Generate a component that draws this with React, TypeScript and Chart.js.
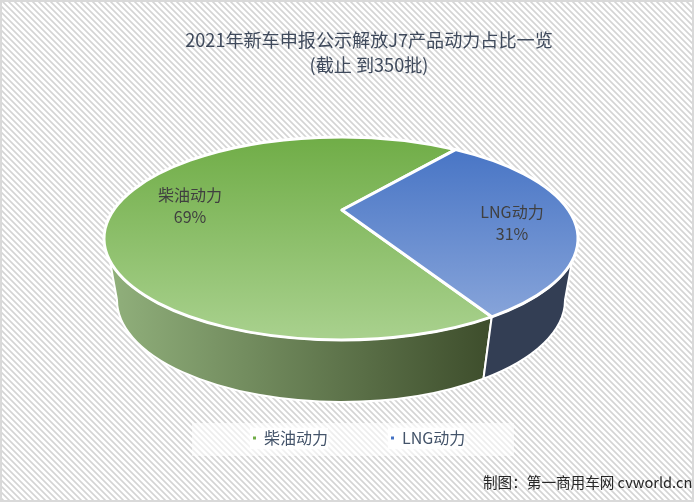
import { useEffect, useRef } from 'react';
import { Chart, registerables } from 'chart.js';

Chart.register(...registerables);

const titleLines = ['2021年新车申报公示解放J7产品动力占比一览', '(截止 到350批)'];
const categories = ['柴油动力', 'LNG动力'];
const shares = [69, 31];
const credit = '制图：第一商用车网 cvworld.cn';

const FONT = '"Noto Sans CJK SC", "Noto Sans", sans-serif';
const WIDTH = 694;
const HEIGHT = 502;

// top face of the pie, and the smaller ellipse the wall ends on (perspective)
const top = { x: 341, y: 238.5, rx: 237, ry: 101.5 };
const base = { x: 341, y: 300, rx: 224, ry: 102 };
const apex = { x: 342, y: 210 };

// slice fills: face runs top to bottom, wall runs left to right
const faceColors = [['#70ad47', '#a9d18e'], ['#4472c4', '#8faadc']];
const wallColors = [['#8fae7a', '#3f4f2d'], ['#3a4760', '#333e54']];
const legendColors = ['#70ad47', '#4472c4'];
const labelSpots = [{ x: 190, y: 195 }, { x: 512, y: 212 }];

const rad = (d: number) => (d * Math.PI) / 180;

const hatch = (ctx: CanvasRenderingContext2D) => {
  const tile = document.createElement('canvas');
  tile.width = 6;
  tile.height = 6;
  const t = tile.getContext('2d')!;
  t.fillStyle = '#ffffff';
  t.fillRect(0, 0, 6, 6);
  for (let y = 0; y < 6; y++) {
    for (let x = 0; x < 6; x++) {
      const d = (x - y + 12) % 6;
      if (d < 3) {
        t.fillStyle = d === 1 ? '#d4d4d4' : '#e2e2e2';
        t.fillRect(x, y, 1, 1);
      }
    }
  }
  return ctx.createPattern(tile, 'repeat')!;
};

const backdrop = {
  id: 'backdrop',
  beforeDraw(chart: any) {
    const { ctx } = chart;
    ctx.save();
    ctx.fillStyle = hatch(ctx);
    ctx.fillRect(0, 0, WIDTH, HEIGHT);
    ctx.strokeStyle = '#d9d9d9';
    ctx.lineWidth = 2;
    ctx.strokeRect(1, 1, WIDTH - 2, HEIGHT - 2);
    // legend panel
    ctx.fillStyle = 'rgba(255,255,255,0.58)';
    ctx.fillRect(192, 423, 322, 33);
    ctx.fillStyle = 'rgba(255,255,255,0.9)';
    ctx.shadowColor = '#ffffff';
    ctx.shadowBlur = 6;
    ctx.fillRect(250, 428, 78, 21);
    ctx.fillRect(388, 428, 76, 21);
    ctx.restore();
  },
};

const placeBoxes = {
  id: 'placeBoxes',
  afterLayout(chart: any) {
    const title = chart.titleBlock;
    title.left = 2;
    title.right = 736;
    title.top = 28;
    const legend = chart.legend;
    legend.left = 190;
    legend.right = 570;
    legend.top = 367;
  },
};

const pie3d = {
  id: 'pie3d',
  // the library's flat arcs give the angles, this draws them as the tilted pie
  beforeDatasetsDraw(chart: any) {
    const { ctx } = chart;
    const arcs = chart.getDatasetMeta(0).data;
    const wallTop = [rad(13), rad(167)];
    const wallBase = [0, Math.PI];
    const turn = 2 * Math.PI;

    ctx.save();
    ctx.lineJoin = 'round';
    arcs.forEach((arc: any, i: number) => {
      const start = ((arc.startAngle % turn) + turn) % turn;
      const end = start + arc.endAngle - arc.startAngle;
      // front part of the slice, the only part with a visible wall
      const a0 = end > turn ? 0 : start;
      const a1 = end > turn ? end - turn : Math.min(end, Math.PI);
      ctx.beginPath();
      ctx.ellipse(top.x, top.y, top.rx, top.ry, 0, Math.max(a0, wallTop[0]), Math.min(a1, wallTop[1]));
      ctx.ellipse(base.x, base.y, base.rx, base.ry, 0, Math.min(a1, wallBase[1]), Math.max(a0, wallBase[0]), true);
      ctx.closePath();
      const wall = ctx.createLinearGradient(base.x - base.rx, 0, base.x + base.rx, 0);
      wall.addColorStop(0, wallColors[i][0]);
      wall.addColorStop(0.82, wallColors[i][1]);
      wall.addColorStop(1, wallColors[i][1]);
      ctx.fillStyle = wall;
      ctx.fill();
      ctx.strokeStyle = '#ffffff';
      ctx.lineWidth = 2;
      ctx.stroke();
    });
    arcs.forEach((arc: any, i: number) => {
      ctx.beginPath();
      ctx.moveTo(apex.x, apex.y);
      ctx.ellipse(top.x, top.y, top.rx, top.ry, 0, arc.startAngle, arc.endAngle);
      ctx.closePath();
      const face = ctx.createLinearGradient(0, top.y - top.ry, 0, top.y + top.ry);
      face.addColorStop(0, faceColors[i][0]);
      face.addColorStop(1, faceColors[i][1]);
      ctx.fillStyle = face;
      ctx.fill();
      ctx.strokeStyle = '#ffffff';
      ctx.lineWidth = 3;
      ctx.stroke();
    });

    ctx.font = `16px ${FONT}`;
    ctx.fillStyle = '#404040';
    ctx.textAlign = 'center';
    ctx.textBaseline = 'middle';
    labelSpots.forEach((spot, i) => {
      ctx.fillText(categories[i], spot.x, spot.y);
      ctx.fillText(`${shares[i]}%`, spot.x, spot.y + 22);
    });

    ctx.font = `14.6px ${FONT}`;
    ctx.fillStyle = '#262626';
    ctx.textAlign = 'left';
    ctx.fillText(credit, 483, 482);
    ctx.restore();
    return false;
  },
};

export default function App() {
  const canvasRef = useRef<HTMLCanvasElement>(null);

  useEffect(() => {
    if (!canvasRef.current) return;
    const chart = new Chart(canvasRef.current, {
      type: 'pie',
      data: {
        labels: categories,
        datasets: [{ data: shares, backgroundColor: legendColors, borderWidth: 0 }],
      },
      plugins: [backdrop, placeBoxes, pie3d],
      options: {
        responsive: false,
        animation: false,
        devicePixelRatio: 1,
        rotation: 140.5,
        events: [],
        plugins: {
          title: {
            display: true,
            text: titleLines,
            color: '#3f4a5c',
            font: { family: FONT, size: 18.1, weight: 'normal', lineHeight: 1.36 },
            padding: 0,
          },
          legend: {
            display: true,
            position: 'bottom',
            align: 'start',
            labels: {
              usePointStyle: true,
              pointStyle: 'rect',
              boxWidth: 3,
              boxHeight: 3,
              padding: 63,
              color: '#44546a',
              font: { family: FONT, size: 16 },
            },
          },
          tooltip: { enabled: false },
        },
      },
    } as any);
    return () => chart.destroy();
  }, []);

  return (
    <div style={{ position: 'fixed', left: 0, top: 0, width: WIDTH, height: HEIGHT }}>
      <canvas ref={canvasRef} width={WIDTH} height={HEIGHT} style={{ display: 'block' }} />
    </div>
  );
}
